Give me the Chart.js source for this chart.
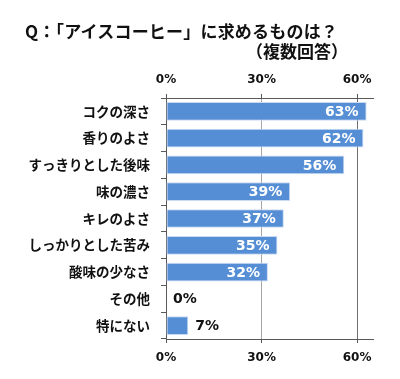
<!DOCTYPE html>
<html>
<head>
<meta charset="utf-8">
<script src="https://cdn.jsdelivr.net/npm/chart.js@4/dist/chart.umd.min.js"></script>
<style>
  html, body { margin: 0; padding: 0; background: #fff; }
  #wrap { position: relative; width: 400px; height: 379px; overflow: hidden; }
  canvas { position: absolute; left: 0; top: 0; }
  .t { position: absolute; font-family: "Noto Sans CJK JP", sans-serif; font-weight: bold; font-size: 17px; color: #111; white-space: nowrap; line-height: 20px; }
  #t1 { left: 25px; top: 21px; letter-spacing: 0.2px; }
  #t2 { right: 52px; top: 41px; }
</style>
</head>
<body>
<div id="wrap">
  <canvas id="c" width="400" height="379"></canvas>
  <div class="t" id="t1">Q：「アイスコーヒー」に求めるものは？</div>
  <div class="t" id="t2">（複数回答）</div>
</div>
<script>
const categories = ['コクの深さ','香りのよさ','すっきりとした後味','味の濃さ','キレのよさ','しっかりとした苦み','酸味の少なさ','その他','特にない'];
const values = [63, 62, 56, 39, 37, 35, 32, 0, 7];
const tickValues = [0, 30, 60];
const axisMax = 65;

const labelPlugin = {
  id: 'barLabels',
  afterDatasetsDraw(chart) {
    const ctx = chart.ctx;
    const meta = chart.getDatasetMeta(0);
    ctx.save();
    ctx.font = 'bold 14px "DejaVu Sans", sans-serif';
    ctx.textBaseline = 'middle';
    meta.data.forEach((bar, i) => {
      const v = values[i];
      const txt = v + '%';
      if (v >= 20) {
        ctx.fillStyle = '#ffffff';
        ctx.textAlign = 'right';
        ctx.fillText(txt, bar.x - 8, bar.y + 1);
      } else {
        ctx.fillStyle = '#111111';
        ctx.textAlign = 'left';
        ctx.fillText(txt, bar.x + 7, bar.y + 1);
      }
    });
    ctx.restore();
  }
};

const gridColor = (c) => {
  const v = c.tick ? c.tick.value : null;
  if (v === 30) return '#a6a6a6';
  if (v === 60) return '#6f6f6f';
  return 'rgba(0,0,0,0)';
};
const keepTicks = (scale) => {
  scale.ticks = tickValues.map(v => ({ value: v }));
};
const tickFont = { family: '"DejaVu Sans", sans-serif', weight: 'bold', size: 12 };

new Chart(document.getElementById('c'), {
  type: 'bar',
  data: {
    labels: categories,
    datasets: [{
      data: values,
      backgroundColor: '#558ed5',
      borderColor: '#c9daf2',
      borderWidth: 1,
      borderSkipped: false,
      barPercentage: 0.7,
      categoryPercentage: 1.0,
      xAxisID: 'x'
    }]
  },
  options: {
    indexAxis: 'y',
    responsive: false,
    animation: false,
    events: [],
    layout: { padding: { top: 66, bottom: 6, left: 0, right: 27 } },
    plugins: { legend: { display: false }, tooltip: { enabled: false } },
    scales: {
      x: {
        position: 'top',
        min: 0, max: axisMax,
        afterBuildTicks: keepTicks,
        afterFit: (s) => { s.height = 32; },
        grid: { color: gridColor, lineWidth: 1, drawTicks: true, tickLength: 4, tickColor: '#595959' },
        border: { display: true, color: '#595959', width: 1 },
        ticks: { font: tickFont, color: '#111', padding: 7, callback: (v) => v + '%' }
      },
      x2: {
        position: 'bottom',
        min: 0, max: axisMax,
        afterBuildTicks: keepTicks,
        afterFit: (s) => { s.height = 34; },
        grid: { drawOnChartArea: false, drawTicks: true, tickLength: 4, color: '#595959' },
        border: { display: true, color: '#595959', width: 1 },
        ticks: { font: tickFont, color: '#111', padding: 8, callback: (v) => v + '%' }
      },
      y: {
        position: 'left',
        afterFit: (s) => { s.width = 166; },
        grid: { offset: true, drawOnChartArea: false, drawTicks: true, tickLength: 5, color: '#595959' },
        border: { display: true, color: '#595959', width: 1 },
        ticks: { font: { family: '"Noto Sans CJK JP", sans-serif', weight: 'bold', size: 13.5 }, color: '#111', padding: 11 }
      }
    }
  },
  plugins: [labelPlugin]
});
</script>
</body>
</html>
